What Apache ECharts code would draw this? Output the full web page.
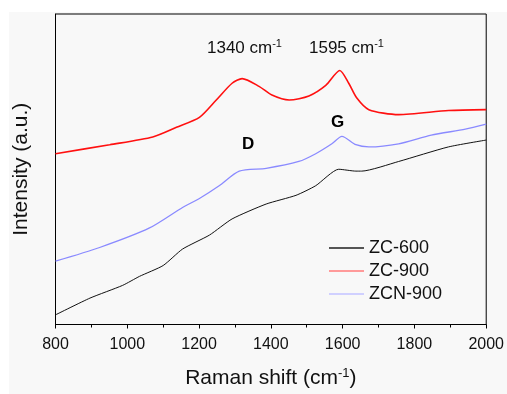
<!DOCTYPE html>
<html><head><meta charset="utf-8">
<script src="https://cdn.jsdelivr.net/npm/echarts@6/dist/echarts.min.js"></script>
<style>html,body{margin:0;padding:0;background:#fff}#c{width:507px;height:394px}</style>
</head><body><div id="c"></div>
<script>
const seriesNames = ['ZC-600', 'ZC-900', 'ZCN-900'];
const xTicks = [800, 1000, 1200, 1400, 1600, 1800, 2000];
const zc600 = [[800,3.1],[896,8.5],[987,12.6],[1034,15.5],[1100,19.0],[1154,24.3],[1229,28.8],[1292,34.0],[1387,38.8],[1470,41.6],[1525,44.7],[1589,50.0],[1637,49.4],[1653,49.4],[1756,52.5],[1895,57.2],[2000,59.4]];
const zc900 = [[800,55.0],[951,57.9],[1071,60.4],[1137,63.5],[1201,66.7],[1248,72.3],[1292,77.7],[1320,79.2],[1367,76.7],[1403,73.9],[1451,72.3],[1506,73.6],[1553,77.0],[1592,81.8],[1617,77.7],[1639,73.0],[1673,69.2],[1756,67.6],[1895,68.9],[2000,69.2]];
const zcn900 = [[800,20.4],[923,24.8],[1062,31.1],[1154,37.7],[1201,40.6],[1256,44.7],[1312,49.4],[1387,50.3],[1478,52.5],[1525,55.0],[1570,58.2],[1598,60.6],[1637,57.9],[1673,57.2],[1756,58.2],[1847,61.0],[1942,62.9],[2000,64.5]];
const peakLabels = ['1340', '1595'];
const bandLabels = ['D', 'G'];

const chart = echarts.init(document.getElementById('c'), null, {renderer: 'canvas'});
const FONT = 'Liberation Sans, Arial, sans-serif';
const peakRich = {a: {fontSize: 17, fontFamily: FONT, fill: '#111'}, s: {fontSize: 11, fontFamily: FONT, fill: '#111', verticalAlign: 'top', padding: [0,0,9,0]}};
chart.setOption({
  backgroundColor: '#ffffff',
  animation: false,
  graphic: [
    {type: 'rect', z: -10, shape: {x: 9, y: 12, width: 498, height: 382}, style: {fill: '#f8f8f8'}},
    {type: 'text', z: 10, left: 207, top: 38, style: {rich: peakRich, text: '{a|' + peakLabels[0] + ' cm}{s|-1}'}},
    {type: 'text', z: 10, left: 309, top: 38, style: {rich: peakRich, text: '{a|' + peakLabels[1] + ' cm}{s|-1}'}},
    {type: 'text', z: 10, left: 242, top: 136, style: {text: bandLabels[0], font: 'bold 17px ' + FONT, fill: '#000'}},
    {type: 'text', z: 10, left: 331, top: 114, style: {text: bandLabels[1], font: 'bold 17px ' + FONT, fill: '#000'}}
  ],
  grid: {left: 55.5, top: 14, right: 19, bottom: 62, show: true, borderColor: '#000', borderWidth: 1, backgroundColor: 'transparent'},
  legend: {
    orient: 'vertical', left: 329, top: 239, padding: 0, itemWidth: 35, itemHeight: 2, itemGap: 5,
    icon: 'rect',
    textStyle: {fontSize: 18, fontFamily: FONT, color: '#111', padding: [0,0,0,0]},
    data: [
      {name: seriesNames[0], itemStyle: {color: '#555'}},
      {name: seriesNames[1], itemStyle: {color: '#ff9a9a'}},
      {name: seriesNames[2], itemStyle: {color: '#d0d0ff'}}
    ]
  },
  xAxis: {
    type: 'value', min: 800, max: 2000, interval: 200,
    axisLine: {show: true, lineStyle: {color: '#000', width: 1}},
    axisTick: {show: true, inside: false, length: 4, lineStyle: {color: '#000'}},
    minorTick: {show: true, splitNumber: 2, length: 3, lineStyle: {color: '#000'}},
    splitLine: {show: false},
    axisLabel: {fontSize: 16, fontFamily: FONT, color: '#111', margin: 12, formatter: v => xTicks.includes(v) ? String(v) : ''},
    name: '{a|Raman shift (cm}{s|-1}{a|)}', nameLocation: 'middle', nameGap: 42,
    nameTextStyle: {rich: {a: {fontSize: 21, fontFamily: FONT, color: '#111'}, s: {fontSize: 13, fontFamily: FONT, color: '#111', verticalAlign: 'top', padding: [0,0,11,0]}}}
  },
  yAxis: {
    type: 'value', min: 0, max: 100,
    axisLine: {show: true, lineStyle: {color: '#000', width: 1}},
    axisTick: {show: false}, axisLabel: {show: false}, splitLine: {show: false},
    name: 'Intensity (a.u.)', nameLocation: 'middle', nameGap: 24,
    nameTextStyle: {fontSize: 21, fontFamily: FONT, color: '#111'}
  },
  series: [
    {name: seriesNames[0], type: 'line', data: zc600, showSymbol: false, smooth: 0.2, lineStyle: {color: '#111', width: 1}, itemStyle: {color: '#111'}},
    {name: seriesNames[1], type: 'line', data: zc900, showSymbol: false, smooth: 0.25, lineStyle: {color: '#ff1010', width: 1.6}, itemStyle: {color: '#ff1010'}},
    {name: seriesNames[2], type: 'line', data: zcn900, showSymbol: false, smooth: 0.25, lineStyle: {color: '#8a8aff', width: 1.3}, itemStyle: {color: '#8a8aff'}}
  ]
});
</script></body></html>
